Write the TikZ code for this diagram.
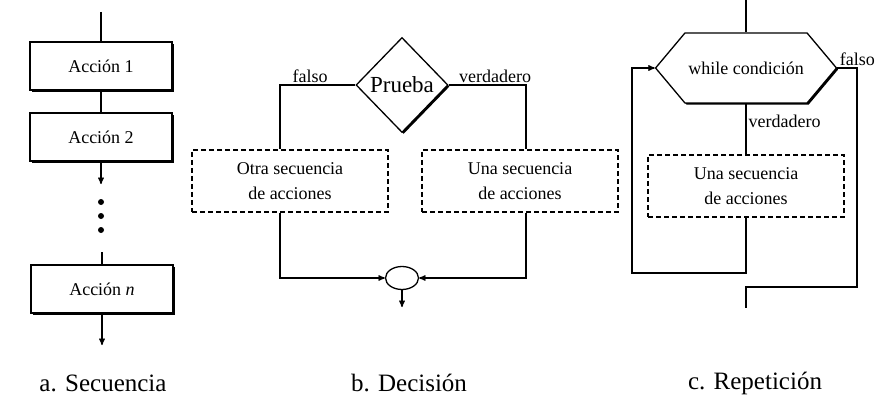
\documentclass[tikz,border=0pt]{standalone}
\usepackage{fontspec}
\setmainfont{Liberation Serif}
\usepackage{tikz}
\usetikzlibrary{arrows}
\usetikzlibrary{positioning, shadows, shapes.geometric, shapes.symbols}

\begin{document}
\begin{tikzpicture}[>=stealth',x=1pt,y=-1pt,line width=1.3pt,
  sombra/.style={drop shadow={shadow xshift=1.6pt,shadow yshift=-1.6pt,opacity=1,fill=black}},
  accion/.style={draw,fill=white,sombra,minimum width=142pt,minimum height=48pt,
    font=\fontsize{18}{20}\selectfont},
  secuencia/.style={draw,dash pattern=on 5pt off 3pt,line width=1.5pt,
    minimum width=196pt,minimum height=62pt,align=center,
    font=\fontsize{18}{25}\selectfont},
  decision/.style={diamond,draw,fill=white,sombra,inner sep=0pt,
    minimum width=92pt,minimum height=95pt,font=\fontsize{23}{25}\selectfont},
  union/.style={ellipse,draw,minimum width=33pt,minimum height=23pt,inner sep=0pt},
  bucle/.style={signal,signal to=west and east,signal pointer angle=100,draw,fill=white,
    sombra,minimum width=180pt,minimum height=70pt,font=\fontsize{18}{20}\selectfont},
  rotulo/.style={font=\fontsize{18}{20}\selectfont,inner sep=2pt},
  titulo/.style={font=\fontsize{25}{27}\selectfont}]

  \useasboundingbox (0,0) rectangle (885,414);

  % a. secuencia
  \coordinate (entraa) at (101,12);
  \node[accion] (acc1) at (101,66) {Acción 1};
  \node[accion] (acc2) at (101,137) {Acción 2};
  \node[accion] (accn) at (102,289) {Acción \textit{n}};
  \coordinate (puntos) at (101,184);
  \coordinate (tras) at (102,252);
  \coordinate (salea) at (102,345);
  \draw (entraa) -- (acc1);
  \draw (acc1) -- (acc2);
  \draw[->] (acc2) -- (puntos);
  \foreach \y in {202,216,230} {
    \fill (101,\y) circle (3pt);
  }
  \draw (tras) -- (accn);
  \draw[->] (accn) -- (salea);
  \node[titulo] (etiqa) at (103,383) {a. Secuencia};

  % b. decision
  \node[decision] (prueba) at (402,85) {Prueba};
  \node[secuencia] (otra) at (290,181) {Otra secuencia\\de acciones};
  \node[secuencia] (una) at (520,181) {Una secuencia\\de acciones};
  \node[union] (une) at (402,278) {};
  \coordinate (saleb) at (402,307);
  \draw (prueba.west) -| ([xshift=-10pt]otra.north) node[rotulo,pos=.3,above] {falso};
  \draw (prueba.east) -| ([xshift=6pt]una.north) node[rotulo,pos=.3,above] {verdadero};
  \draw[->] ([xshift=-10pt]otra.south) |- (une.west);
  \draw[->] ([xshift=6pt]una.south) |- (une.east);
  \draw[->] (une.south) -- (saleb);
  \node[titulo] (etiqb) at (409,383) {b. Decisión};

  % c. repeticion
  \coordinate (entrac) at (746,0);
  \node[bucle] (cond) at (746,68) {while condición};
  \node[secuencia] (una2) at (746,186) {Una secuencia\\de acciones};
  \coordinate (vuelta) at (632,273);
  \coordinate (finc) at (857,287);
  \coordinate (salec) at (746,308);
  \draw (entrac) -- (cond.north);
  \draw (cond.south) -- (una2.north) node[rotulo,pos=.35,right] {verdadero};
  \draw[->] (una2.south) |- (vuelta) |- (cond.west);
  \draw (cond.east) -| (finc) -| (salec);
  \node[rotulo,anchor=south west] (falsoc) at (cond.east) {falso};
  \node[titulo] (etiqc) at (755,383) {c. Repetición};

\end{tikzpicture}
\end{document}
